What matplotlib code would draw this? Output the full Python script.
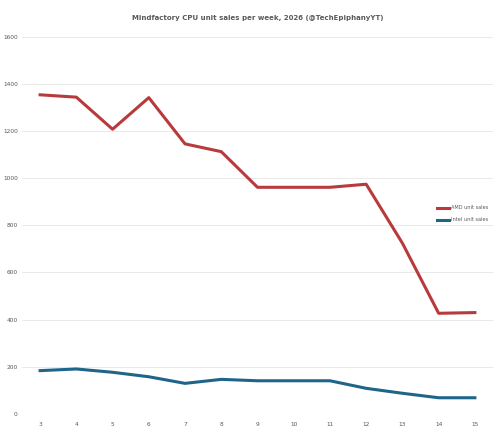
import matplotlib
matplotlib.use("Agg")
import matplotlib.pyplot as plt

weeks = [3, 4, 5, 6, 7, 8, 9, 10, 11, 12, 13, 14, 15]
amd_sales = [1353, 1343, 1207, 1341, 1145, 1112, 961, 961, 961, 974, 724, 427, 430]
intel_sales = [184, 191, 177, 158, 130, 147, 141, 141, 141, 109, 88, 69, 69]
y_ticks = [0, 200, 400, 600, 800, 1000, 1200, 1400, 1600]

def main():
    fig = plt.figure(figsize=(5, 4.4), dpi=100)
    ax = fig.add_axes([0.044, 0.059, 0.942, 0.858])

    ax.plot(weeks, amd_sales, color="#b83a3c", lw=2.2, label="AMD unit sales",
            solid_joinstyle="round")
    ax.plot(weeks, intel_sales, color="#1f6489", lw=2.2, label="Intel unit sales",
            solid_joinstyle="round")

    ax.set_xlim(2.5, 15.5)
    ax.set_ylim(0, 1600)
    ax.set_xticks(weeks)
    ax.set_yticks(y_ticks)
    ax.tick_params(labelsize=4.2, colors="#595959", length=0)
    ax.tick_params(axis="y", pad=3)
    ax.tick_params(axis="x", pad=6)
    ax.grid(axis="y", color="#e6e6e6", lw=0.6)
    ax.set_axisbelow(True)
    for s in ax.spines.values():
        s.set_visible(False)

    ax.set_title("Mindfactory CPU unit sales per week, 2026 (@TechEpiphanyYT)",
                 fontsize=5, fontweight="bold", color="#595959", pad=12)
    ax.legend(loc="center left", bbox_to_anchor=(0.872, 0.53), fontsize=3.6,
              frameon=False, handlelength=2.4, handletextpad=0.3,
              labelcolor="#595959", labelspacing=1.4)

    fig.savefig("out.png", dpi=100)

if __name__ == "__main__":
    main()
